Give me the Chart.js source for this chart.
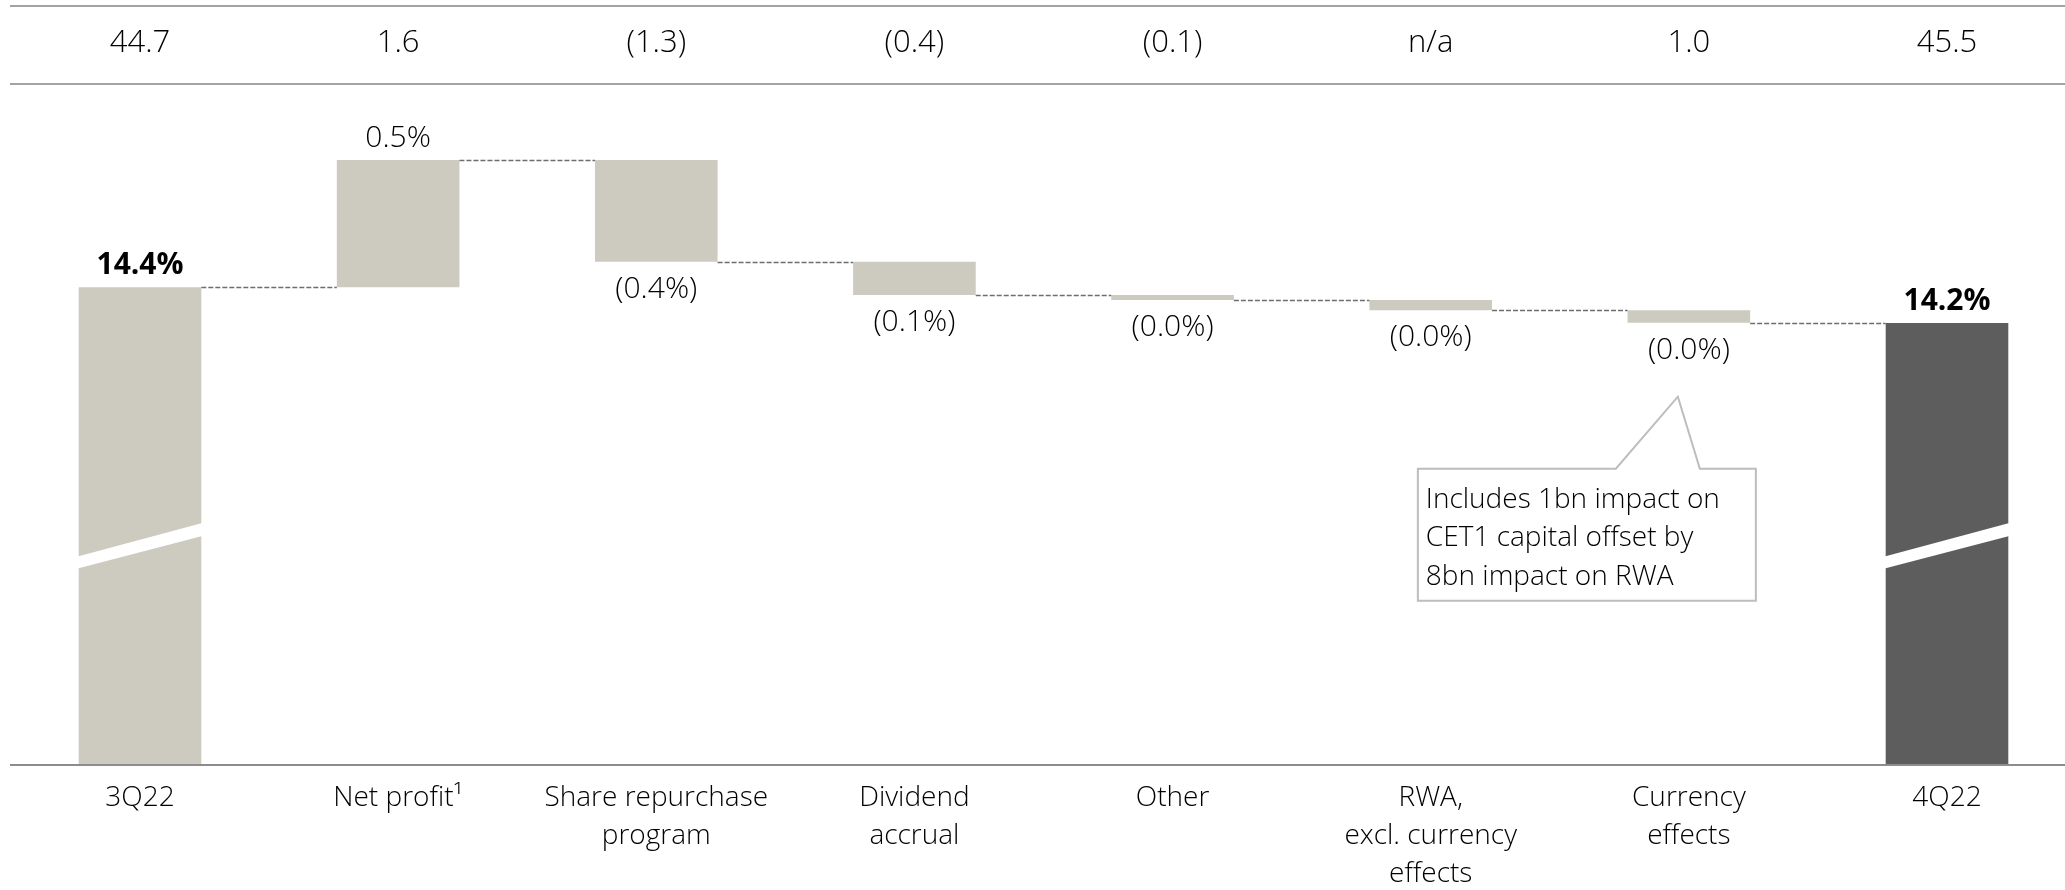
<!DOCTYPE html>
<html>
<head>
<meta charset="utf-8">
<title>CET1 capital ratio</title>
<script src="https://cdn.jsdelivr.net/npm/chart.js@4.4.0/dist/chart.umd.min.js"></script>
<style>
  html, body { margin: 0; padding: 0; background: #fff; }
  #wrap { width: 2065px; height: 890px; position: relative; }
</style>
</head>
<body>
<div id="wrap"><canvas id="cet1"></canvas></div>
<script>
// categories along the bottom (multi-line labels)
const categories = [
  ['3Q22'],
  ['Net profit\u00b9'],
  ['Share repurchase', 'program'],
  ['Dividend', 'accrual'],
  ['Other'],
  ['RWA,', 'excl. currency', 'effects'],
  ['Currency', 'effects'],
  ['4Q22']
];

// CET1 capital, USD bn (row above the chart), null = n/a
const capitalBn = [44.7, 1.6, -1.3, -0.4, -0.1, null, 1.0, 45.5];

// CET1 capital ratio, %
const ratioStart = 14.38;
const ratioChanges = [0.50, -0.40, -0.13, -0.02, -0.04, -0.049];
const ratioEnd = 14.24;

const noteLines = ['Includes 1bn impact on', 'CET1 capital offset by', '8bn impact on RWA'];

// visible part of the (broken) ratio axis
const axisFloor = 12.505;
const axisCeil = 15.115;

const FONT = "'Open Sans', 'Noto Sans', sans-serif";
const INK = '#000';
const LIGHT = '#cdcbbf';
const DARK = '#5c5d5c';

// build floating bars for the waterfall
const bars = [[axisFloor, ratioStart]];
const levels = [ratioStart];
let level = ratioStart;
ratioChanges.forEach(c => {
  bars.push([level, level + c]);
  level += c;
  levels.push(level);
});
bars.push([axisFloor, ratioEnd]);
levels.push(ratioEnd);

const barColors = bars.map((b, i) => i === bars.length - 1 ? DARK : LIGHT);

function fmtCapital(v) {
  if (v === null) return 'n/a';
  return v < 0 ? '(' + Math.abs(v).toFixed(1) + ')' : v.toFixed(1);
}

function fmtRatio(i) {
  if (i === 0) return ratioStart.toFixed(1) + '%';
  if (i === bars.length - 1) return ratioEnd.toFixed(1) + '%';
  const c = ratioChanges[i - 1];
  return c < 0 ? '(' + Math.abs(c).toFixed(1) + '%)' : c.toFixed(1) + '%';
}

const extras = {
  id: 'waterfallExtras',
  afterDatasetsDraw(chart) {
    const ctx = chart.ctx;
    const xs = chart.scales.x;
    const ys = chart.scales.y;
    const area = chart.chartArea;
    const meta = chart.getDatasetMeta(0).data;
    const W = chart.width;

    ctx.save();

    // rules for the capital row and the base line
    ctx.strokeStyle = '#a3a3a3';
    ctx.lineWidth = 2;
    [6, 84].forEach(y => {
      ctx.beginPath(); ctx.moveTo(10, y); ctx.lineTo(W, y); ctx.stroke();
    });
    ctx.strokeStyle = '#8c8c8c';
    ctx.beginPath(); ctx.moveTo(10, area.bottom); ctx.lineTo(W, area.bottom); ctx.stroke();

    // capital row
    ctx.fillStyle = INK;
    ctx.font = '300 31px ' + FONT;
    ctx.textAlign = 'center';
    ctx.textBaseline = 'alphabetic';
    capitalBn.forEach((v, i) => {
      ctx.fillText(fmtCapital(v), xs.getPixelForValue(i), 52);
    });

    // axis break on the two total bars
    ctx.fillStyle = '#fff';
    [0, meta.length - 1].forEach(i => {
      const b = meta[i];
      const l = b.x - b.width / 2 - 1, r = b.x + b.width / 2 + 1;
      const yb = area.bottom;
      ctx.beginPath();
      ctx.moveTo(l, yb - 208.5);
      ctx.lineTo(r, yb - 242);
      ctx.lineTo(r, yb - 229);
      ctx.lineTo(l, yb - 196.5);
      ctx.closePath();
      ctx.fill();
    });

    // dashed connectors between bars
    ctx.strokeStyle = '#6e6e6e';
    ctx.lineWidth = 1.3;
    ctx.setLineDash([5, 2]);
    for (let i = 0; i < meta.length - 1; i++) {
      const a = meta[i], b = meta[i + 1];
      const y = Math.round(ys.getPixelForValue(levels[i])) + 0.5;
      ctx.beginPath();
      ctx.moveTo(a.x + a.width / 2, y);
      ctx.lineTo(b.x - b.width / 2, y);
      ctx.stroke();
    }
    ctx.setLineDash([]);

    // value labels
    ctx.fillStyle = INK;
    meta.forEach((b, i) => {
      const top = Math.min(b.y, b.base), bottom = Math.max(b.y, b.base);
      const total = i === 0 || i === meta.length - 1;
      ctx.font = (total ? 'bold ' : '300 ') + '30px ' + FONT;
      const up = total || ratioChanges[i - 1] >= 0;
      if (up) ctx.fillText(fmtRatio(i), b.x, top - 13);
      else ctx.fillText(fmtRatio(i), b.x, bottom + 36);
    });

    // note callout pointing at the currency bar
    const cb = meta[6];
    const cx = cb.x;
    const cBottom = Math.max(cb.y, cb.base);
    const left = cx - 271, right = cx + 67;
    const boxTop = cBottom + 146, boxBottom = cBottom + 278;
    ctx.beginPath();
    ctx.moveTo(left, boxTop);
    ctx.lineTo(cx - 73, boxTop);
    ctx.lineTo(cx - 11, cBottom + 74);
    ctx.lineTo(cx + 11, boxTop);
    ctx.lineTo(right, boxTop);
    ctx.lineTo(right, boxBottom);
    ctx.lineTo(left, boxBottom);
    ctx.closePath();
    ctx.fillStyle = '#fff';
    ctx.fill();
    ctx.strokeStyle = '#bdbdbd';
    ctx.lineWidth = 2;
    ctx.stroke();

    ctx.fillStyle = INK;
    ctx.font = '300 28px ' + FONT;
    ctx.textAlign = 'left';
    noteLines.forEach((t, k) => {
      ctx.fillText(t, left + 8, boxTop + 39 + k * 38.5);
    });

    ctx.restore();
  }
};

new Chart(document.getElementById('cet1'), {
  type: 'bar',
  data: {
    labels: categories,
    datasets: [{
      data: bars,
      backgroundColor: barColors,
      borderWidth: 0,
      barPercentage: 0.475,
      categoryPercentage: 1,
      clip: false
    }]
  },
  options: {
    responsive: true,
    maintainAspectRatio: false,
    animation: false,
    layout: { padding: { top: 100, left: 140, right: 118, bottom: 0 } },
    plugins: {
      legend: { display: false },
      tooltip: { enabled: false }
    },
    scales: {
      x: {
        offset: false,
        grid: { display: false, drawTicks: false },
        border: { display: false },
        ticks: {
          autoSkip: false,
          maxRotation: 0,
          color: INK,
          padding: 14,
          font: { family: FONT, size: 28, weight: '300', lineHeight: 1.36 }
        },
        afterFit(scale) { scale.height = 125; }
      },
      y: {
        display: false,
        min: axisFloor,
        max: axisCeil
      }
    }
  },
  plugins: [extras]
});
</script>
</body>
</html>
